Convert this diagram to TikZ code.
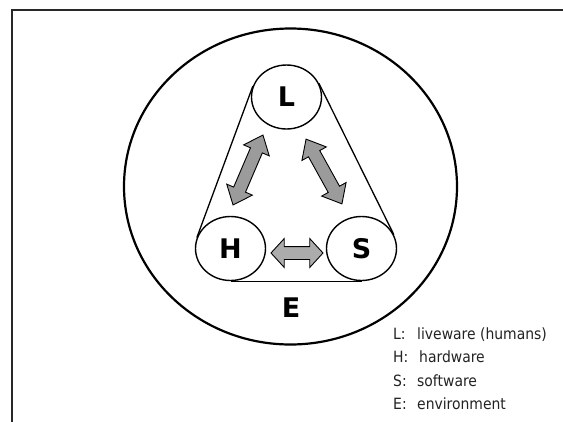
\documentclass[tikz,border=0pt]{standalone}
\usepackage{fontspec}
\setsansfont{DejaVu Sans}
\newfontfamily\legfont{DejaVu Sans Condensed}
\usetikzlibrary{shapes.geometric,shapes.arrows}
\definecolor{arrowgray}{RGB}{155,155,155}
\definecolor{arrowlight}{RGB}{172,172,172}
\definecolor{legendgray}{RGB}{35,35,35}
\definecolor{framegray}{RGB}{40,40,40}
\begin{document}
\begin{tikzpicture}[x=1pt,y=-1pt,
  unit/.style={draw, ellipse, line width=1.4pt, minimum width=70pt, minimum height=64pt, inner sep=0pt,
    font=\sffamily\bfseries\fontsize{27}{27}\selectfont},
  bigletter/.style={inner sep=0pt, font=\sffamily\bfseries\fontsize{27}{27}\selectfont},
  belt/.style={line width=1.3pt},
  blockarrow/.style={draw, line width=0.9pt, fill=arrowgray, double arrow, double arrow head extend=7.5pt,
    double arrow tip angle=80, inner xsep=0pt, inner ysep=6pt},
  legend/.style={anchor=base west, inner sep=0pt, text=legendgray, font=\legfont\fontsize{15.5}{15.5}\selectfont}]
\useasboundingbox (0,0) rectangle (563,421);
\fill[white] (0,0) rectangle (563,421);
% frame
\draw[framegray, line width=2.2pt] (12,440) -- (12,10) -- (580,10);
% environment circle
\node[draw, ellipse, line width=2.2pt, minimum width=333pt, minimum height=316pt, inner sep=0pt] (env) at (290.5,186.5) {};
% units
\node[unit] (L) at (286.5,97) {L};
\node[unit] (H) at (230.5,248.5) {H};
\node[unit] (S) at (361.5,248.5) {S};
% belt
\draw[belt] (L.162) -- (H.162);
\draw[belt] (L.23) -- (S.23);
\draw[belt] (H.south) -- (S.south);
% arrows
\node[blockarrow, minimum height=76pt, rotate=66.8] (aLH) at (248,170) {};
\node[blockarrow, minimum height=74pt, rotate=-61] (aLS) at (324,171.5) {};
\node[blockarrow, fill=arrowlight, minimum height=52pt, double arrow head extend=8pt, double arrow tip angle=95] (aHS) at (297,253) {};
% E
\node[bigletter] (E) at (291,308) {E};
% legend
\node[legend] (lgL) at (393,339) {\makebox[24pt][l]{L:}liveware (humans)};
\node[legend] (lgH) at (393,362.5) {\makebox[26pt][l]{H:}hardware};
\node[legend] (lgS) at (393,386) {\makebox[24pt][l]{S:}software};
\node[legend] (lgE) at (393,409.5) {\makebox[24pt][l]{E:}environment};
\end{tikzpicture}
\end{document}
